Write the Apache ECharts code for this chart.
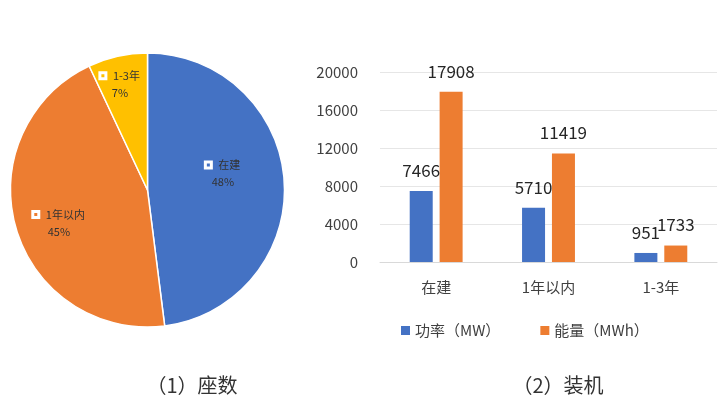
<!DOCTYPE html>
<html>
<head>
<meta charset="utf-8">
<script src="https://cdn.jsdelivr.net/npm/echarts@6/dist/echarts.min.js"></script>
<style>
  html, body { margin: 0; padding: 0; background: #fff; }
  #main { width: 720px; height: 418px; }
</style>
</head>
<body>
<div id="main"></div>
<script>
// 饼图：座数占比
const pieNames = ['在建', '1年以内', '1-3年'];
const pieValues = [48, 45, 7];

// 柱状图：装机
const barCategories = ['在建', '1年以内', '1-3年'];
const powerMW = [7466, 5710, 951];
const energyMWh = [17908, 11419, 1733];
const seriesNames = ['功率（MW）', '能量（MWh）'];

const FONT = '"Noto Sans CJK SC", "Noto Sans", sans-serif';
const BLUE = '#4472C4';
const ORANGE = '#ED7D31';
const YELLOW = '#FFC000';

// excel 风格的标签位置微调
const pieLabelOffset = {
  '在建': [4, -12],
  '1年以内': [-20, 13],
  '1-3年': [-12, -36]
};

let chart = echarts.init(document.getElementById('main'));

let option = {
  animation: false,
  textStyle: { fontFamily: FONT },
  title: [{
      text: '（1）座数',
      left: 187,
      top: 370,
      textAlign: 'center',
      textStyle: { fontSize: 20, fontWeight: 'normal', color: '#333', fontFamily: FONT }
    },
    {
      text: '（2）装机',
      left: 553,
      top: 370,
      textAlign: 'center',
      textStyle: { fontSize: 20, fontWeight: 'normal', color: '#333', fontFamily: FONT }
    }
  ],
  legend: {
    data: seriesNames,
    left: 396,
    top: 318,
    itemWidth: 9,
    itemHeight: 9,
    itemGap: 40,
    icon: 'rect',
    textStyle: { fontSize: 15, color: '#404040', fontFamily: FONT }
  },
  grid: {
    left: 380,
    right: 3,
    top: 72,
    bottom: 156
  },
  xAxis: {
    type: 'category',
    data: barCategories,
    axisLine: { show: true, lineStyle: { color: '#d9d9d9' } },
    axisTick: { show: false },
    axisLabel: { fontSize: 15, color: '#404040', margin: 18, fontFamily: FONT }
  },
  yAxis: {
    type: 'value',
    min: 0,
    max: 20000,
    interval: 4000,
    axisLine: { show: false },
    axisTick: { show: false },
    axisLabel: {
      fontSize: 15,
      color: '#404040',
      margin: 22,
      fontFamily: FONT,
      formatter: function(v) {
        return String(v);
      }
    },
    splitLine: { lineStyle: { color: '#e6e6e6' } }
  },
  series: [{
      type: 'pie',
      center: [147.5, 190],
      radius: 137,
      startAngle: 90,
      clockwise: true,
      silent: true,
      itemStyle: { borderColor: '#fff', borderWidth: 1.5 },
      color: [BLUE, ORANGE, YELLOW],
      label: {
        position: 'inside',
        color: '#333',
        fontSize: 11,
        lineHeight: 17,
        formatter: function(p) {
          return '{sq|}{nm|' + p.name + '}\n' + p.value + '%';
        },
        rich: {
          sq: {
            width: 6,
            height: 6,
            borderColor: '#fff',
            borderWidth: 1.5,
            backgroundColor: 'transparent'
          },
          nm: { fontSize: 11, color: '#333', padding: [0, 0, 0, 7] }
        }
      },
      labelLine: { show: false },
      data: pieNames.map(function(n, i) {
        return {
          name: n,
          value: pieValues[i],
          label: { offset: pieLabelOffset[n] }
        };
      })
    },
    {
      name: seriesNames[0],
      type: 'bar',
      data: powerMW,
      barWidth: 23,
      barGap: '30%',
      itemStyle: { color: BLUE },
      label: {
        show: true,
        position: 'top',
        distance: 12,
        fontSize: 17,
        color: '#262626',
        fontFamily: FONT
      }
    },
    {
      name: seriesNames[1],
      type: 'bar',
      data: energyMWh,
      barWidth: 23,
      itemStyle: { color: ORANGE },
      label: {
        show: true,
        position: 'top',
        distance: 12,
        fontSize: 17,
        color: '#262626',
        fontFamily: FONT
      }
    }
  ]
};

if (option && typeof option === 'object') {
  chart.setOption(option);
}
</script>
</body>
</html>
